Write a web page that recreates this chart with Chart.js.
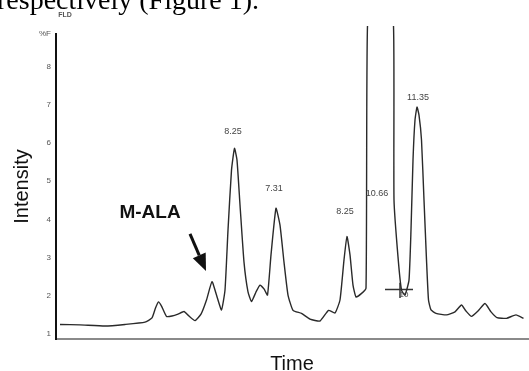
<!DOCTYPE html>
<html>
<head>
<meta charset="utf-8">
<script src="https://cdn.jsdelivr.net/npm/chart.js@4.4.1/dist/chart.umd.min.js"></script>
<style>
  html, body { margin: 0; padding: 0; background: #fff; }
</style>
</head>
<body>
<canvas id="chroma" width="529" height="371"></canvas>
<script>
// FLD trace. Time is in arbitrary units (no time ticks on the plot)
const time = [4, 24, 49, 69, 89, 96, 99.5, 102.5, 105.5, 110.5, 116, 122, 128, 133, 139, 145, 150.5, 156, 160.5, 165.5,
  169, 172, 175.5, 178.5, 181, 184, 188, 192, 195.5, 200, 204, 208, 211.5, 215, 220, 224, 228, 232, 237, 245.5,
  254, 264, 272.5, 279, 284, 288, 291, 294, 297, 300, 305, 310, 311.5, 324, 337.5, 338, 342, 345.5, 349, 353,
  355, 357, 359, 361, 363, 365.5, 368, 370.5, 372.5, 375, 380, 390.5, 399, 405.5, 410, 415.5, 422, 429, 435, 441,
  450.5, 460, 467.5];
const intensity = [1.25, 1.24, 1.21, 1.25, 1.31, 1.42, 1.68, 1.84, 1.73, 1.46, 1.47, 1.52, 1.59, 1.47, 1.35, 1.52, 1.89, 2.37, 2.02, 1.63,
  2.15, 3.72, 5.29, 5.86, 5.55, 4.38, 2.88, 2.10, 1.85, 2.10, 2.28, 2.18, 2.02, 3.07, 4.29, 3.85, 2.88, 2.02, 1.62, 1.54,
  1.39, 1.34, 1.62, 1.55, 1.89, 2.94, 3.55, 3.07, 2.28, 1.97, 2.05, 2.20, 9.06, 14, 9.06, 4.51, 3.02, 2.15, 2.02, 2.41,
  3.72, 5.55, 6.60, 6.94, 6.73, 6.08, 4.51, 2.94, 1.89, 1.63, 1.54, 1.50, 1.58, 1.76, 1.60, 1.46, 1.60, 1.80, 1.58, 1.43,
  1.41, 1.50, 1.41];

// retention-time labels printed above the peaks
const peakLabels = ['8.25', '7.31', '8.25', '10.66', '11.35'];
const peakLabelTime = [177, 218, 289, 321, 362];
const peakLabelLevel = [6.30, 4.80, 4.20, 4.69, 7.20];

// integration marker under the 10.66 / 11.35 pair
const markerTimeH = [329, 357];
const markerLevelH = 2.165;
const markerTimeV = 344;
const markerLevelV = [2.34, 1.94];

// y axis ticks
const yTicks = [1, 2, 3, 4, 5, 6, 7, 8, 8.853];
const yTickLabels = ['1', '2', '3', '4', '5', '6', '7', '8', '%F'];

// arrow pointing at the M-ALA peak
const arrowFrom = {x: 134, y: 3.62};
const arrowTo = {x: 150, y: 2.65};
const malaLabelAt = {x: 94, y: 4.17};

const traceData = time.map((t, i) => ({x: t, y: intensity[i]}));

const notesPlugin = {
  id: 'notes',
  afterDraw(chart) {
    const ctx = chart.ctx;
    const xs = chart.scales.x, ys = chart.scales.y;
    ctx.save();

    // running text from the page, cut at the top
    ctx.fillStyle = '#000';
    ctx.font = '28px "Liberation Serif"';
    ctx.textBaseline = 'alphabetic';
    ctx.textAlign = 'left';
    ctx.fillText('respectively (Figure 1).', -3, 9);

    ctx.font = 'bold 7px "Liberation Sans"';
    ctx.fillStyle = '#555';
    ctx.textAlign = 'center';
    ctx.textBaseline = 'middle';
    ctx.fillText('FLD', 65, 15);

    // peak labels
    ctx.font = '9px "Liberation Sans"';
    ctx.fillStyle = '#444';
    peakLabels.forEach((lbl, i) => {
      ctx.fillText(lbl, xs.getPixelForValue(peakLabelTime[i]), ys.getPixelForValue(peakLabelLevel[i]));
    });
    ctx.font = '8px "Liberation Sans"';
    ctx.fillText('10', xs.getPixelForValue(markerTimeV) + 4, ys.getPixelForValue(markerLevelH) + 5);

    // M-ALA
    ctx.font = 'bold 19px "Liberation Sans"';
    ctx.fillStyle = '#111';
    ctx.fillText('M-ALA', xs.getPixelForValue(malaLabelAt.x), ys.getPixelForValue(malaLabelAt.y));

    // arrow
    const x0 = xs.getPixelForValue(arrowFrom.x), y0 = ys.getPixelForValue(arrowFrom.y);
    const x1 = xs.getPixelForValue(arrowTo.x), y1 = ys.getPixelForValue(arrowTo.y);
    const ang = Math.atan2(y1 - y0, x1 - x0);
    const headLen = 17, headHalf = 7;
    const bx = x1 - headLen * Math.cos(ang), by = y1 - headLen * Math.sin(ang);
    ctx.strokeStyle = '#111';
    ctx.lineWidth = 3;
    ctx.beginPath();
    ctx.moveTo(x0, y0);
    ctx.lineTo(bx, by);
    ctx.stroke();
    ctx.fillStyle = '#111';
    ctx.beginPath();
    ctx.moveTo(x1, y1);
    ctx.lineTo(bx + headHalf * Math.sin(ang), by - headHalf * Math.cos(ang));
    ctx.lineTo(bx - headHalf * Math.sin(ang), by + headHalf * Math.cos(ang));
    ctx.closePath();
    ctx.fill();

    ctx.restore();
  }
};

new Chart(document.getElementById('chroma'), {
  type: 'line',
  data: {
    datasets: [{
      label: 'FLD',
      data: traceData,
      borderColor: '#2a2a2a',
      borderWidth: 1.4,
      pointRadius: 0,
      tension: 0.15,
      fill: false,
      clip: {left: 0, top: 8, right: 0, bottom: 0}
    }, {
      label: 'markerH',
      data: markerTimeH.map(t => ({x: t, y: markerLevelH})),
      borderColor: '#333',
      borderWidth: 1.5,
      pointRadius: 0
    }, {
      label: 'markerV',
      data: markerLevelV.map(v => ({x: markerTimeV, y: v})),
      borderColor: '#333',
      borderWidth: 1.5,
      pointRadius: 0
    }]
  },
  options: {
    responsive: false,
    animation: false,
    layout: { padding: { top: 34, right: 1, bottom: 0, left: 0 } },
    plugins: {
      legend: { display: false },
      tooltip: { enabled: false }
    },
    scales: {
      x: {
        type: 'linear',
        min: 0,
        max: 472,
        grid: { display: false, drawTicks: false },
        border: { display: true, color: '#8a8a8a', width: 2 },
        ticks: { display: false },
        title: {
          display: true,
          text: 'Time',
          color: '#111',
          font: { family: 'Liberation Sans', size: 20, lineHeight: 0.7 },
          padding: { top: 0, bottom: 0 }
        },
        afterFit(scale) { scale.height = 32; }
      },
      y: {
        type: 'linear',
        min: 0.869,
        max: 8.853,
        grid: { display: false, drawTicks: false },
        border: { display: true, color: '#111', width: 2 },
        afterBuildTicks(scale) { scale.ticks = yTicks.map(v => ({value: v})); },
        ticks: {
          padding: 5,
          color: '#555',
          font: { family: 'Liberation Sans', size: 8 },
          autoSkip: false,
          callback: (value, index) => yTickLabels[index]
        },
        title: {
          display: true,
          text: 'Intensity',
          color: '#111',
          font: { family: 'Liberation Sans', size: 20, lineHeight: 1.2 },
          padding: { top: 10, bottom: 0 }
        },
        afterFit(scale) { scale.width = 56; }
      }
    }
  },
  plugins: [notesPlugin]
});
</script>
</body>
</html>
